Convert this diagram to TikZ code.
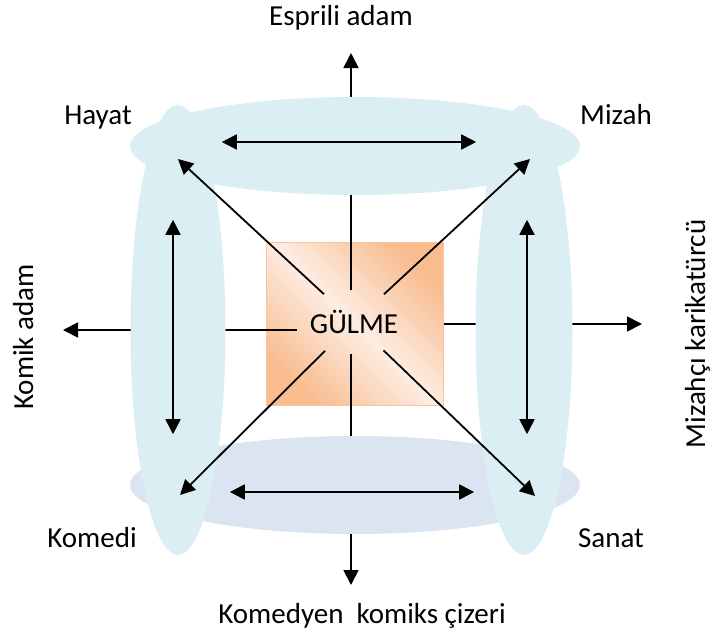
\documentclass[tikz,border=0pt]{standalone}
\usepackage{fontspec}
\setmainfont{Carlito}
\usetikzlibrary{arrows.meta,shapes.geometric}
\definecolor{capblue}{HTML}{DAEEF3}
\definecolor{lavblue}{HTML}{DBE5F1}
\definecolor{boxdark}{HTML}{F8BC8F}
\definecolor{boxlight}{HTML}{FDEDE2}
\definecolor{boxedge}{HTML}{F9C59C}

\begin{document}
\begin{tikzpicture}[x=1pt,y=-1pt,
  every node/.style={font=\fontsize{29}{34}\selectfont},
  line/.style={line width=1.8pt,-{Triangle[length=15pt,width=15pt]}},
  both/.style={line width=1.8pt,{Triangle[length=15pt,width=15pt]}-{Triangle[length=15pt,width=15pt]}},
  ring/.style={ellipse,inner sep=0pt,fill=#1},
  lbl/.style={anchor=base,inner sep=0pt}]
  \useasboundingbox (0,0) rectangle (713,635);
  \node[rectangle,draw=boxedge,line width=1pt,minimum width=177pt,minimum height=163pt,
    top color=boxdark,bottom color=boxdark,middle color=boxlight,shading angle=-45] (box) at (354.5,323.5) {};
  \coordinate (up) at (351,53);
  \coordinate (down) at (351,585);
  \coordinate (lft) at (63,330);
  \coordinate (rgt) at (642,324);
  \node[minimum width=114pt,minimum height=63pt,inner sep=0pt] (gulme) at (354,322) {GÜLME};
  \draw[line] (gulme.north -| up) -- (up);
  \draw[line] (gulme.south -| down) -- (down);
  \draw[line] (gulme.west |- lft) -- (lft);
  \draw[line] (box.east |- rgt) -- (rgt);
  \node[ring=capblue,minimum width=450pt,minimum height=98pt] (hm) at (355,146) {};
  \node[ring=lavblue,minimum width=450pt,minimum height=98pt] (ks) at (355,485) {};
  \node[ring=capblue,minimum width=95pt,minimum height=450pt] (hk) at (178,330) {};
  \node[ring=capblue,minimum width=97pt,minimum height=450pt] (ms) at (524,330) {};
  \coordinate (hayatpt) at (178,159);
  \coordinate (mizahpt) at (530,159);
  \coordinate (komedipt) at (180,495);
  \coordinate (sanatpt) at (535,496);
  \foreach \p in {hayatpt,mizahpt,komedipt,sanatpt}
    \draw[line,shorten <=41pt] (gulme.center) -- (\p);
  \draw[both] ([shift={(92,-4)}]hm.west) -- ([shift={(-104,-4)}]hm.east);
  \draw[both] ([shift={(100,7)}]ks.west) -- ([shift={(-106,7)}]ks.east);
  \draw[both] ([shift={(-5,115)}]hk.north) -- ([shift={(-5,-121)}]hk.south);
  \draw[both] ([shift={(3,115)}]ms.north) -- ([shift={(3,-121)}]ms.south);
  \node[lbl] (hayat) at (98,124) {Hayat};
  \node[lbl] (mizah) at (616,124) {Mizah};
  \node[lbl] (komedi) at (92,547) {Komedi};
  \node[lbl] (sanat) at (611,547) {Sanat};
  \node[lbl] (esprili) at (341,25) {Esprili adam};
  \node[lbl] (komedyen) at (362,623) {Komedyen\ \ komiks çizeri};
  \node[lbl,rotate=90] (komik) at (33,337) {Komik adam};
  \node[lbl,rotate=90] (karikatur) at (705,334) {Mizahçı karikatürcü};
\end{tikzpicture}
\end{document}
